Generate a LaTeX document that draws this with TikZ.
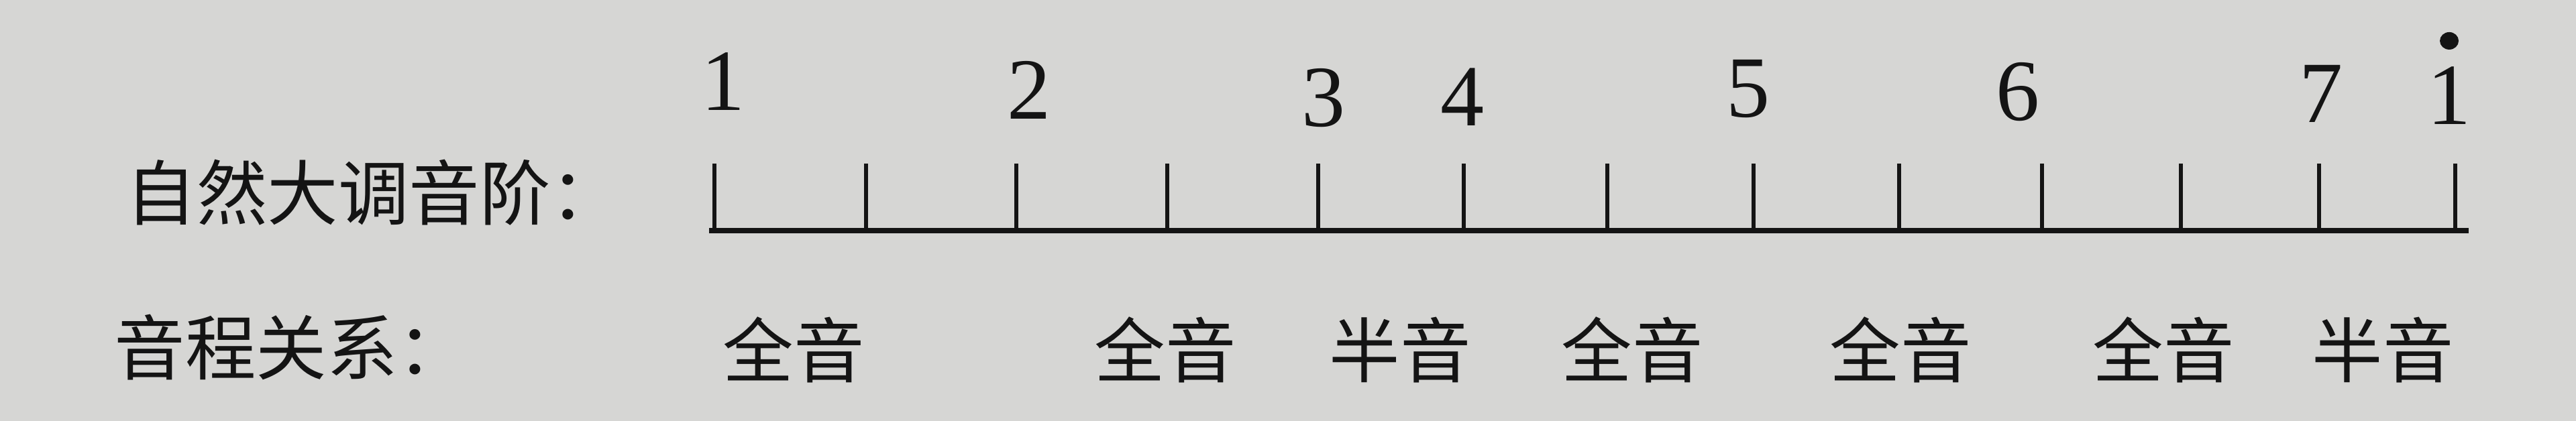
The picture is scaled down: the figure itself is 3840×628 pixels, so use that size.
\documentclass[tikz,border=0pt]{standalone}
\usepackage{fontspec}
\setmainfont{Liberation Serif}
\newfontfamily\cjk{Noto Sans CJK SC}
\definecolor{paper}{RGB}{214,214,212}
\definecolor{ink}{RGB}{20,20,20}
\begin{document}
\begin{tikzpicture}[x=0.01cm,y=-0.01cm,
  digit/.style={inner sep=0pt,font=\fontsize{37}{40}\selectfont,text=ink},
  cjklab/.style={inner sep=0pt,font=\cjk\fontsize{30}{34}\selectfont,text=ink},
  tickline/.style={draw=ink,line width=1.6pt},
  baseline/.style={draw=ink,line width=2.2pt}]
\fill[paper] (0,0) rectangle (3840,628);
\useasboundingbox (0,0) rectangle (3840,628);
% tick bases on the line
\foreach \i/\x in {0/1065,1/1291,2/1515,3/1740,4/1965,5/2182,6/2396,7/2614,8/2831,9/3044,10/3251,11/3457,12/3660}{
  \coordinate (t\i) at (\x,344);
  \coordinate (u\i) at (\x,244);
}
\draw[baseline] ([xshift=-0.08cm]t0) -- ([xshift=0.2cm]t12);
\foreach \i in {0,...,12}{ \draw[tickline] (t\i) -- (u\i); }
% scale degrees
\node[digit] (n1) at (1078,122) {1};
\node[digit] (n2) at (1534,134) {2};
\node[digit] (n3) at (1973,146) {3};
\node[digit] (n4) at (2180,145) {4};
\node[digit] (n5) at (2606,133) {5};
\node[digit] (n6) at (3008,137) {6};
\node[digit] (n7) at (3460,140) {7};
\node[digit] (n8) at (3651,143) {1};
\fill[ink] ([yshift=0.82cm]n8.center) ellipse (0.14cm and 0.13cm);
% row labels
\node[cjklab,anchor=west] (lab1) at (187,287) {自然大调音阶：};
\node[cjklab,anchor=west] (lab2) at (170,518) {音程关系：};
% intervals
\node[cjklab] (i1) at (1183,522) {全音};
\node[cjklab] (i2) at (1737,522) {全音};
\node[cjklab] (i3) at (2087,522) {半音};
\node[cjklab] (i4) at (2433,522) {全音};
\node[cjklab] (i5) at (2833,522) {全音};
\node[cjklab] (i6) at (3225,522) {全音};
\node[cjklab] (i7) at (3552,522) {半音};
\end{tikzpicture}
\end{document}
